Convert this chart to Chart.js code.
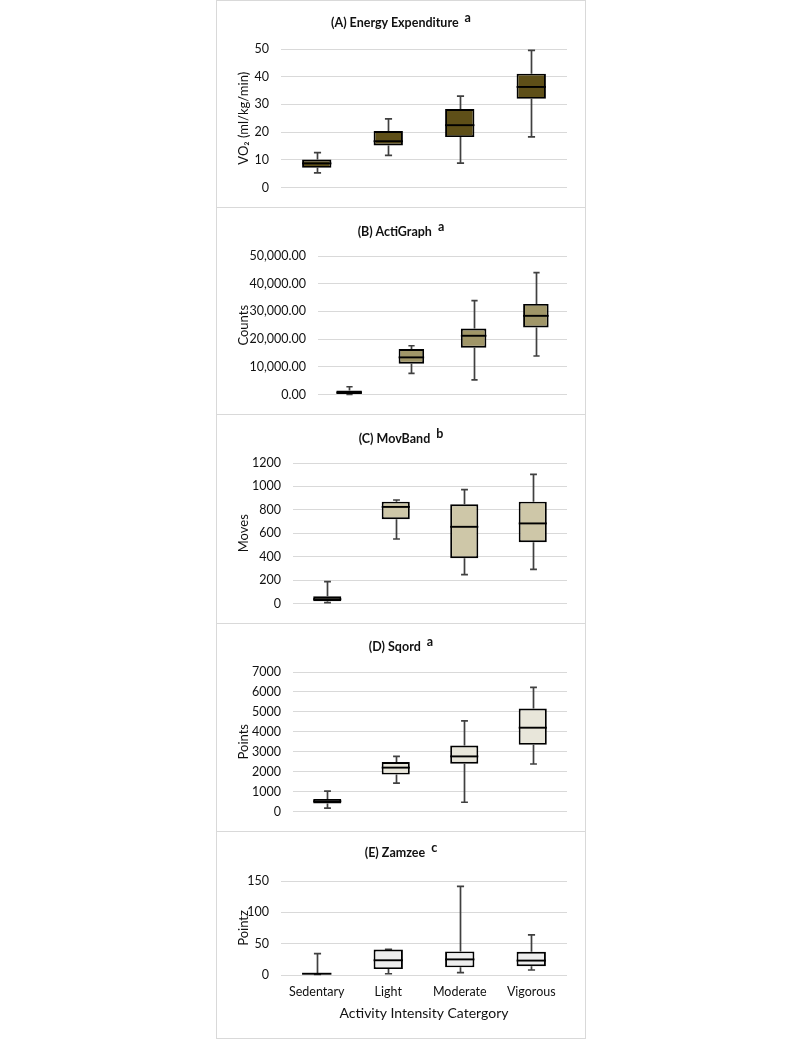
<!DOCTYPE html>
<html><head><meta charset="utf-8">
<script src="https://cdn.jsdelivr.net/npm/chart.js@4.4.0/dist/chart.umd.min.js"></script>
<style>
body{margin:0;background:#fff;width:800px;height:1040px;position:relative;overflow:hidden;font-family:Lato,"Open Sans",sans-serif;}
canvas{position:absolute;left:216px;}
.frame{position:absolute;left:216px;width:370px;border:1px solid #d9d9d9;box-sizing:border-box;pointer-events:none;}
.title{position:absolute;left:216px;width:370px;text-align:center;font-weight:bold;font-size:12.5px;line-height:16px;color:#111;white-space:nowrap;}
.title sup{font-size:12.5px;line-height:0;vertical-align:5px;margin-left:3px;}
</style></head>
<body>
<div class="frame" style="top:0;height:208px"></div>
<div class="frame" style="top:207px;height:208px"></div>
<div class="frame" style="top:414px;height:210px"></div>
<div class="frame" style="top:623px;height:209px"></div>
<div class="frame" style="top:831px;height:208px"></div>
<canvas id="cA" width="369" height="207" style="top:0px"></canvas>
<canvas id="cB" width="369" height="207" style="top:207px"></canvas>
<canvas id="cC" width="369" height="209" style="top:414px"></canvas>
<canvas id="cD" width="369" height="208" style="top:623px"></canvas>
<canvas id="cE" width="369" height="207" style="top:831px"></canvas>
<div class="title" style="top:15px">(A) Energy Expenditure <sup>a</sup></div>
<div class="title" style="top:224px">(B) ActiGraph <sup>a</sup></div>
<div class="title" style="top:431px">(C) MovBand <sup>b</sup></div>
<div class="title" style="top:639px">(D) Sqord <sup>a</sup></div>
<div class="title" style="top:845px">(E) Zamzee <sup>c</sup></div>
<script>
const categories = ['Sedentary', 'Light', 'Moderate', 'Vigorous'];
// five-number summaries per category: [min, q1, median, q3, max]
const energyExpenditure = [[5.3, 7.1, 8.7, 10.1, 12.6], [11.6, 15.2, 16.7, 20.4, 24.8], [8.8, 18.2, 22.5, 28.3, 33.0], [18.3, 32.0, 36.3, 41.1, 49.5]];
const actiGraph = [[0, 200, 700, 1400, 2800], [7600, 11100, 13400, 16400, 17600], [5300, 16900, 21200, 23800, 33900], [13900, 24200, 28400, 32700, 44000]];
const movBand = [[8, 20, 37, 62, 186], [551, 720, 825, 870, 884], [246, 387, 655, 847, 972], [291, 523, 684, 870, 1102]];
const sqord = [[165, 397, 513, 629, 1026], [1424, 1854, 2202, 2483, 2765], [463, 2400, 2765, 3310, 4550], [2384, 3344, 4205, 5165, 6225]];
const zamzee = [[1, 1.5, 2, 2.5, 34], [2, 9.5, 23.5, 40.5, 40.8], [3.7, 12.2, 24.9, 37.6, 141.5], [8, 14, 23, 37, 64]];
const yTitles = ['VO\u2082 (ml/kg/min)', 'Counts', 'Moves', 'Points', 'Pointz'];
const xTitle = 'Activity Intensity Catergory';

Chart.defaults.font.family = 'Lato, "Open Sans", sans-serif';
const TXT = '#111';

function boxPlugin(box) {
  return {
    id: 'boxparts',
    beforeDatasetsDraw(chart) {
      const x = chart.scales.x, y = chart.scales.y, ctx = chart.ctx;
      const step = x.getPixelForValue(1) - x.getPixelForValue(0);
      const cap = step * 0.05;
      ctx.save();
      ctx.strokeStyle = '#404040';
      ctx.lineWidth = 1.7;
      box.forEach((b, i) => {
        const cx = Math.round(x.getPixelForValue(i)) + 0.5;
        const yMin = y.getPixelForValue(b[0]), yQ1 = y.getPixelForValue(b[1]);
        const yQ3 = y.getPixelForValue(b[3]), yMax = y.getPixelForValue(b[4]);
        ctx.beginPath();
        ctx.moveTo(cx, yMin); ctx.lineTo(cx, yQ1);
        ctx.moveTo(cx, yQ3); ctx.lineTo(cx, yMax);
        ctx.moveTo(cx - cap, yMin); ctx.lineTo(cx + cap, yMin);
        ctx.moveTo(cx - cap, yMax); ctx.lineTo(cx + cap, yMax);
        ctx.stroke();
      });
      ctx.restore();
    },
    afterDatasetsDraw(chart) {
      const y = chart.scales.y, ctx = chart.ctx;
      const meta = chart.getDatasetMeta(0);
      ctx.save();
      ctx.strokeStyle = '#000';
      ctx.lineWidth = 1.9;
      box.forEach((b, i) => {
        const bar = meta.data[i];
        const ym = y.getPixelForValue(b[2]);
        ctx.beginPath();
        ctx.moveTo(bar.x - bar.width / 2, ym);
        ctx.lineTo(bar.x + bar.width / 2, ym);
        ctx.stroke();
      });
      ctx.restore();
    }
  };
}

function makeChart(id, box, fill, cfg) {
  const showX = !!cfg.showX;
  new Chart(document.getElementById(id), {
    type: 'bar',
    data: {
      labels: categories,
      datasets: [{
        data: box.map(b => [b[1], b[3]]),
        backgroundColor: fill,
        borderColor: '#000',
        borderWidth: 1.9,
        borderSkipped: false,
        barPercentage: 0.41,
        categoryPercentage: 1
      }]
    },
    options: {
      responsive: false,
      devicePixelRatio: 1,
      animation: false,
      events: [],
      layout: { padding: { left: 0, right: 18, top: cfg.pt, bottom: cfg.pb } },
      plugins: { legend: { display: false }, tooltip: { enabled: false }, title: { display: false } },
      scales: {
        x: {
          display: showX,
          grid: { display: false, drawTicks: false },
          border: { display: false },
          ticks: { padding: 9, color: TXT, font: { size: 12.5 } },
          title: { display: showX, text: xTitle, color: TXT, font: { size: 14 }, padding: { top: 2, bottom: 0 } },
          afterFit(s) { if (showX) s.height = cfg.xh; }
        },
        y: {
          min: 0, max: cfg.max,
          ticks: { stepSize: cfg.step, padding: 12, color: TXT, font: { size: 12.5 }, callback: cfg.fmt },
          grid: { color: '#d9d9d9', lineWidth: 1, drawTicks: false },
          border: { display: false },
          title: { display: true, text: cfg.title, color: TXT, font: { size: 13 }, padding: { top: 20, bottom: 0 } },
          afterFit(s) { s.width = cfg.yw; }
        }
      }
    },
    plugins: [boxPlugin(box)]
  });
}

const plain = v => String(v);
const money = v => v.toLocaleString('en-US', { minimumFractionDigits: 2, maximumFractionDigits: 2 });

makeChart('cA', energyExpenditure, '#5e4f18', { pt: 49, pb: 19, max: 50, step: 10, yw: 65, title: yTitles[0], fmt: plain });
makeChart('cB', actiGraph, '#a09668', { pt: 49, pb: 17, max: 50000, step: 10000, yw: 102, title: yTitles[1], fmt: money });
makeChart('cC', movBand, '#cec7a8', { pt: 49, pb: 18, max: 1200, step: 200, yw: 77, title: yTitles[2], fmt: plain });
makeChart('cD', sqord, '#e8e6da', { pt: 49, pb: 18, max: 7000, step: 1000, yw: 77, title: yTitles[3], fmt: plain });
makeChart('cE', zamzee, '#ededed', { pt: 50, pb: 16, xh: 47, max: 150, step: 50, yw: 65, title: yTitles[4], fmt: plain, showX: true });
</script>
</body></html>
